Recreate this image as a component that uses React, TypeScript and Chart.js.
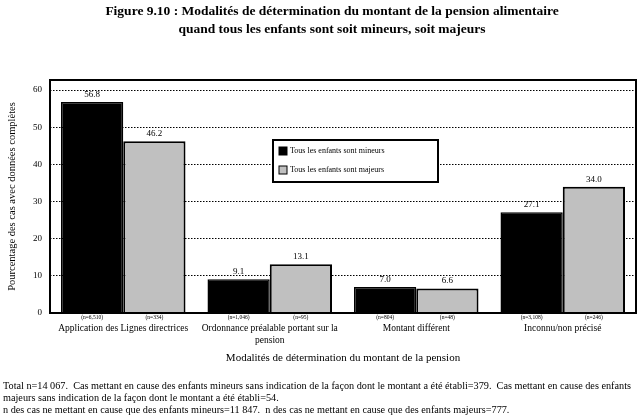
import React, { useEffect, useRef } from "react";
import { Chart, registerables } from "chart.js";

Chart.register(...registerables);

const categories: string[][] = [
  ["Application des Lignes directrices"],
  ["Ordonnance préalable portant sur la", "pension"],
  ["Montant différent"],
  ["Inconnu/non précisé"],
];
const seriesNames = ["Tous les enfants sont mineurs", "Tous les enfants sont majeurs"];
const minors = [56.8, 9.1, 7.0, 27.1];
const majors = [46.2, 13.1, 6.6, 34.0];
const nMinors = ["(n=6,510)", "(n=1,046)", "(n=804)", "(n=3,108)"];
const nMajors = ["(n=334)", "(n=95)", "(n=48)", "(n=246)"];
const yTicks = [0, 10, 20, 30, 40, 50, 60];
const titleLines = [
  "Figure 9.10 : Modalités de détermination du montant de la pension alimentaire",
  "quand tous les enfants sont soit mineurs, soit majeurs",
];
const footLines = [
  "Total n=14 067.  Cas mettant en cause des enfants mineurs sans indication de la façon dont le montant a été établi=379.  Cas mettant en cause des enfants",
  "majeurs sans indication de la façon dont le montant a été établi=54.",
  "n des cas ne mettant en cause que des enfants mineurs=11 847.  n des cas ne mettant en cause que des enfants majeurs=777.",
];
const xTitle = "Modalités de détermination du montant de la pension";
const yTitle = "Pourcentage des cas avec données complètes";

const SERIF = "'Liberation Serif', 'Times New Roman', serif";

const decorPlugin = {
  id: "decor",
  afterDatasetsDraw(chart: any) {
    const ctx = chart.ctx;
    const area = chart.chartArea;
    ctx.save();
    ctx.fillStyle = "#000";
    ctx.textAlign = "center";
    const nLabels = [nMinors, nMajors];
    chart.data.datasets.forEach((ds: any, di: number) => {
      const meta = chart.getDatasetMeta(di);
      meta.data.forEach((bar: any, i: number) => {
        ctx.font = `9px ${SERIF}`;
        ctx.textBaseline = "bottom";
        ctx.fillText(ds.data[i].toFixed(1), bar.x, bar.y - 3);
        ctx.font = `5.5px ${SERIF}`;
        ctx.textBaseline = "top";
        ctx.fillText(nLabels[di][i], bar.x, area.bottom + 2);
      });
    });
    // frame
    ctx.strokeStyle = "#000";
    ctx.lineWidth = 2;
    ctx.strokeRect(area.left, area.top, area.right - area.left, area.bottom - area.top);
    // legend
    const lx = 273, ly = 140, lw = 165, lh = 42;
    ctx.fillStyle = "#fff";
    ctx.fillRect(lx, ly, lw, lh);
    ctx.lineWidth = 2;
    ctx.strokeRect(lx, ly, lw, lh);
    ctx.font = `8px ${SERIF}`;
    ctx.textAlign = "left";
    ctx.textBaseline = "middle";
    chart.data.datasets.forEach((ds: any, di: number) => {
      const cy = ly + 11 + di * 19;
      ctx.fillStyle = ds.backgroundColor;
      ctx.fillRect(lx + 6, cy - 4, 8, 8);
      ctx.lineWidth = 1;
      ctx.strokeStyle = "#000";
      ctx.strokeRect(lx + 6, cy - 4, 8, 8);
      ctx.fillStyle = "#000";
      ctx.fillText(ds.label, lx + 17, cy);
    });
    ctx.restore();
  },
  afterDraw(chart: any) {
    const ctx = chart.ctx;
    ctx.save();
    ctx.fillStyle = "#000";
    ctx.textAlign = "center";
    ctx.textBaseline = "alphabetic";
    ctx.font = `bold 13.5px ${SERIF}`;
    titleLines.forEach((t, i) => ctx.fillText(t, 332, 15 + i * 18));
    ctx.textAlign = "left";
    ctx.font = `10px ${SERIF}`;
    const w = ctx.measureText(footLines[0]).width;
    const sx = 628 / w;
    ctx.translate(3, 0);
    ctx.scale(sx, 1);
    footLines.forEach((t, i) => ctx.fillText(t, 0, 389 + i * 12));
    ctx.restore();
  },
};

export default function App() {
  const ref = useRef<HTMLCanvasElement>(null);
  useEffect(() => {
    const chart = new Chart(ref.current!, {
      type: "bar",
      data: {
        labels: categories,
        datasets: [
          {
            label: seriesNames[0],
            data: minors,
            backgroundColor: "#000000",
            borderColor: "#000000",
            borderWidth: 1.5,
          },
          {
            label: seriesNames[1],
            data: majors,
            backgroundColor: "#c0c0c0",
            borderColor: "#000000",
            borderWidth: 2,
          },
        ],
      },
      options: {
        animation: false,
        responsive: false,
        devicePixelRatio: 1,
        layout: { padding: { top: 80, left: 0, right: 2, bottom: 55 } },
        datasets: { bar: { categoryPercentage: 0.85, barPercentage: 1.0 } },
        plugins: {
          legend: { display: false },
          title: { display: false },
          tooltip: { enabled: false },
        },
        scales: {
          x: {
            grid: { display: false, drawTicks: false },
            border: { display: false },
            ticks: {
              color: "#000",
              font: { family: SERIF, size: 9.5 },
              padding: 10,
              maxRotation: 0,
              autoSkip: false,
            },
            title: {
              display: true,
              text: xTitle,
              color: "#000",
              font: { family: SERIF, size: 11 },
              padding: { top: 6, bottom: 0 },
            },
            afterFit: (s: any) => {
              s.height = 52;
            },
          },
          y: {
            min: 0,
            max: 62.7,
            grid: { color: "#000", lineWidth: 1, drawTicks: false },
            border: { display: false, dash: [1.5, 1.5] },
            afterBuildTicks: (s: any) => {
              s.ticks = yTicks.map((v) => ({ value: v }));
            },
            ticks: {
              color: "#000",
              font: { family: SERIF, size: 9 },
              padding: 8,
            },
            title: {
              display: true,
              text: yTitle,
              color: "#000",
              font: { family: SERIF, size: 10.5 },
              padding: { top: 6, bottom: 0 },
            },
            afterFit: (s: any) => {
              s.width = 50;
            },
          },
        },
      },
      plugins: [decorPlugin],
    });
    return () => chart.destroy();
  }, []);
  return (
    <div style={{ position: "absolute", left: 0, top: 0, width: 638, height: 420, background: "#fff" }}>
      <canvas ref={ref} width={638} height={420} />
    </div>
  );
}
